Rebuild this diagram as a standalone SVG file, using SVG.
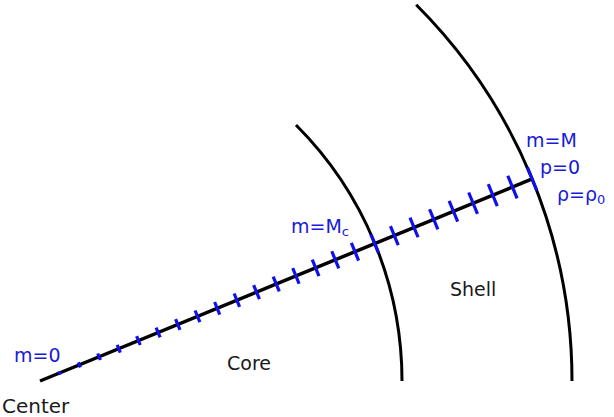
<svg xmlns="http://www.w3.org/2000/svg" width="614" height="417" viewBox="0 0 614 417">
<style>
.arc{fill:none;stroke:#000;stroke-width:3;stroke-linecap:butt}
.axis{stroke:#000;stroke-width:3.5}
.tick{stroke:#1010e8;stroke-width:3.2}
.t{font-family:"DejaVu Sans",sans-serif;font-size:19px;fill:#1a1a1a}
.b{font-family:"DejaVu Sans",sans-serif;font-size:19px;fill:#1a1ad8}
.sub{font-size:13px}
</style>
<rect width="614" height="417" fill="#fff"/>
<g id="boundaries">
<path id="core-boundary" class="arc" d="M296,125 A362,362 0 0 1 402,381"/>
<path id="surface" class="arc" d="M416.2,4.8 A532,532 0 0 1 572,381"/>
</g>
<g id="connectors">
<g transform="translate(40,381) rotate(-22.32)">
<line class="axis" x1="0" y1="0" x2="532" y2="0"/>
<line class="tick" x1="21.28" y1="-1.81" x2="21.28" y2="1.81"/>
<line class="tick" x1="42.56" y1="-2.75" x2="42.56" y2="2.75"/>
<line class="tick" x1="63.84" y1="-3.5" x2="63.84" y2="3.5"/>
<line class="tick" x1="85.12" y1="-4.16" x2="85.12" y2="4.16"/>
<line class="tick" x1="106.4" y1="-4.76" x2="106.4" y2="4.76"/>
<line class="tick" x1="127.68" y1="-5.31" x2="127.68" y2="5.31"/>
<line class="tick" x1="148.96" y1="-5.82" x2="148.96" y2="5.82"/>
<line class="tick" x1="170.24" y1="-6.31" x2="170.24" y2="6.31"/>
<line class="tick" x1="191.52" y1="-6.77" x2="191.52" y2="6.77"/>
<line class="tick" x1="212.8" y1="-7.21" x2="212.8" y2="7.21"/>
<line class="tick" x1="234.08" y1="-7.63" x2="234.08" y2="7.63"/>
<line class="tick" x1="255.36" y1="-8.05" x2="255.36" y2="8.05"/>
<line class="tick" x1="276.64" y1="-8.45" x2="276.64" y2="8.45"/>
<line class="tick" x1="297.92" y1="-8.83" x2="297.92" y2="8.83"/>
<line class="tick" x1="319.2" y1="-9.2" x2="319.2" y2="9.2"/>
<line class="tick" x1="340.48" y1="-9.56" x2="340.48" y2="9.56"/>
<line class="tick" x1="361.76" y1="-9.92" x2="361.76" y2="9.92"/>
<line class="tick" x1="383.04" y1="-10.26" x2="383.04" y2="10.26"/>
<line class="tick" x1="404.32" y1="-10.6" x2="404.32" y2="10.6"/>
<line class="tick" x1="425.6" y1="-10.93" x2="425.6" y2="10.93"/>
<line class="tick" x1="446.88" y1="-11.26" x2="446.88" y2="11.26"/>
<line class="tick" x1="468.16" y1="-11.58" x2="468.16" y2="11.58"/>
<line class="tick" x1="489.44" y1="-11.89" x2="489.44" y2="11.89"/>
<line class="tick" x1="510.72" y1="-12.2" x2="510.72" y2="12.2"/>
<line class="tick" x1="532" y1="-12.5" x2="532" y2="12.5"/>
</g>
</g>
<g id="center"><text class="b" x="14" y="362">m=0</text><text class="t" x="2" y="413" style="font-size:20px">Center</text></g>
<g id="core"><text class="t" x="227" y="370">Core</text></g>
<g id="shell"><text class="t" x="450" y="296">Shell</text></g>
<g id="core-edge"><text class="b" x="291" y="233">m=M<tspan class="sub" dy="3">c</tspan></text></g>
<g id="surface-labels">
<text class="b" x="526" y="147">m=M</text>
<text class="b" x="540" y="174">p=0</text>
<text class="b" x="557" y="201">ρ=ρ<tspan class="sub" dy="3">0</tspan></text>
</g>
</svg>
